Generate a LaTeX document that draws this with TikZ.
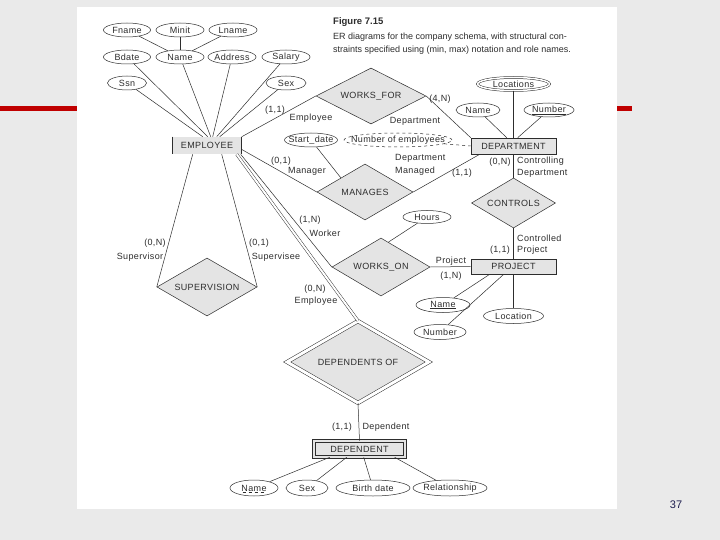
\documentclass[tikz,border=0pt]{standalone}
\usepackage{fontspec}
\setmainfont{Liberation Sans}
\newfontfamily\lsf{Liberation Sans}[LetterSpace=4]
\usetikzlibrary{shapes.geometric,calc}
\definecolor{slidebg}{RGB}{234,234,234}
\definecolor{boxgray}{RGB}{228,228,228}
\definecolor{barred}{RGB}{192,0,0}
\definecolor{inkc}{RGB}{45,45,45}
\definecolor{pagenum}{RGB}{30,30,80}
\newcommand{\zw}[1]{\makebox[0pt]{#1}}
\begin{document}
\begin{tikzpicture}[x=1pt,y=-1pt,
  every node/.style={font=\lsf\fontsize{9}{11}\selectfont, text=inkc, inner sep=0pt},
  attr/.style={ellipse, draw=inkc, fill=white, line width=0.5pt, minimum height=14pt},
  entbox/.style={rectangle, fill=boxgray, draw=inkc, line width=0.6pt},
  rel/.style={diamond, aspect=2, draw=inkc, fill=boxgray, line width=0.5pt},
  conn/.style={draw=inkc, line width=0.5pt}]
% slide background
\fill[slidebg] (0,0) rectangle (720,540);
\useasboundingbox (0,0) rectangle (720,540);
\fill[barred] (0,106) rectangle (78,111);
\fill[barred] (617,106) rectangle (632,111);
\fill[white] (77,7) rectangle (617,509);
\node[font=\fontsize{11}{13}\selectfont, text=pagenum] (pg) at (676,505) {37};

% caption
\node[anchor=west, font=\bfseries\fontsize{9.5}{11}\selectfont] (ftitle) at (333,22) {Figure 7.15};
\node[anchor=west, font=\fontsize{9}{11}\selectfont] (cap1) at (333,37) {ER diagrams for the company schema, with structural con-};
\node[anchor=west, font=\fontsize{9}{11}\selectfont] (cap2) at (333,50) {straints specified using (min, max) notation and role names.};

% entities
\node[entbox, draw=none, minimum width=69pt, minimum height=17pt] (emp) at (207,145.5) {EMPLOYEE};
\draw[conn, line width=0.7pt] (emp.north west) -- (emp.south west);
\draw[conn, line width=0.7pt] (emp.north east) -- (emp.south east);
\node[entbox, minimum width=85pt, minimum height=16pt] (dept) at (513.5,146) {DEPARTMENT};
\node[entbox, minimum width=85pt, minimum height=15pt] (proj) at (513.5,266.5) {PROJECT};
\node[entbox, double=boxgray, double distance=2.5pt, minimum width=91pt, minimum height=16pt] (dep) at (359.5,449) {DEPENDENT};

% relationships
\node[rel, minimum width=110pt, minimum height=56pt] (wf) at (371,96) {WORKS\_FOR};
\node[rel, minimum width=96pt, minimum height=56pt] (man) at (365,192) {MANAGES};
\node[rel, minimum width=84pt, minimum height=50pt] (ctrl) at (513.5,203) {CONTROLS};
\node[rel, minimum width=98pt, minimum height=58pt] (won) at (381,267) {WORKS\_ON};
\node[rel, minimum width=100pt, minimum height=58pt] (sup) at (207,287) {SUPERVISION};
\node[rel, double=white, double distance=3pt, minimum width=142pt, minimum height=82pt] (dof) at (358,362) {DEPENDENTS OF};

% employee attributes
\node[attr, minimum width=47pt] (fname) at (127,30) {\zw{Fname}};
\node[attr, minimum width=48pt] (minit) at (180,30) {\zw{Minit}};
\node[attr, minimum width=48pt] (lname) at (233,30) {\zw{Lname}};
\node[attr, minimum width=47pt] (bdate) at (127,57) {\zw{Bdate}};
\node[attr, minimum width=48pt] (ename) at (180,57) {\zw{Name}};
\node[attr, minimum width=48pt] (addr) at (232,57) {\zw{Address}};
\node[attr, minimum width=48pt] (salary) at (286,57) {\zw{Salary}};
\node[attr, minimum width=39pt] (ssn) at (127,83) {\zw{Ssn}};
\node[attr, minimum width=40pt] (esex) at (286,83) {\zw{Sex}};

% department attributes
\node[attr, double, double distance=1.5pt, minimum width=72pt, minimum height=13pt] (locs) at (513.5,84) {\zw{Locations}};
\node[attr, minimum width=44pt] (dname) at (478,110) {\zw{Name}};
\node[attr, minimum width=50pt] (dnum) at (549,110) {\zw{\underline{Number}}};
\node[attr, dashed, minimum width=108pt] (noe) at (398,140) {\zw{Number of employees}};
\node[attr, minimum width=53pt] (sdate) at (311,140) {\zw{Start\_date}};

% project / works_on attributes
\node[attr, minimum width=48pt, minimum height=13pt] (hours) at (427,217) {\zw{Hours}};
\node[attr, minimum width=54pt, minimum height=15pt] (pname) at (443,305) {\zw{\underline{Name}}};
\node[attr, minimum width=52pt, minimum height=15pt] (pnum) at (440,332) {\zw{Number}};
\node[attr, minimum width=60pt, minimum height=15pt] (ploc) at (513.5,316) {\zw{Location}};

% dependent attributes
\node[attr, minimum width=48pt, minimum height=16pt] (depname) at (254,488) {\zw{Name}};
\draw[conn, dashed, line width=0.4pt] ([xshift=-11.5pt,yshift=-4.5pt]depname.center) -- ([xshift=11.5pt,yshift=-4.5pt]depname.center);
\node[attr, minimum width=42pt, minimum height=16pt] (depsex) at (307,488) {\zw{Sex}};
\node[attr, minimum width=74pt, minimum height=16pt] (bdate2) at (373,488) {\zw{Birth date}};
\node[attr, minimum width=74pt, minimum height=16pt] (relsh) at (450,488) {\zw{Relationship}};

% connectors: employee attributes
\draw[conn] (fname) -- (ename);
\draw[conn] (minit) -- (ename);
\draw[conn] (lname) -- (ename);
\draw[conn] (ssn) -- ([xshift=30.5pt]emp.north west);
\draw[conn] (bdate) -- ([xshift=35.5pt]emp.north west);
\draw[conn] (ename) -- ([xshift=38.5pt]emp.north west);
\draw[conn] (addr) -- ([xshift=40.5pt]emp.north west);
\draw[conn] (salary) -- ([xshift=44.5pt]emp.north west);
\draw[conn] (esex) -- ([xshift=47.5pt]emp.north west);

% relationships of employee
\draw[conn] (emp.north east) -- (wf.west);
\draw[conn] ([yshift=-4pt]emp.east) -- (man.west);
\draw[conn] ([xshift=20.5pt]emp.south west) -- (sup.west);
\draw[conn] ([xshift=49.5pt]emp.south west) -- (sup.east);
\draw[conn] ([xshift=68.5pt]emp.south west) -- (won.west);
\draw[conn, double=white, double distance=2pt, line width=0.45pt] ([xshift=64.5pt]emp.south west) -- (dof.north);

% department connectors
\draw[conn] (wf.east) -- (dept.north west);
\draw[conn] (man.east) -- ([xshift=9pt]dept.south west);
\draw[conn] (sdate) -- (man.north west);
\draw[conn, dashed] (noe) -- (dept.west);
\draw[conn] (locs) -- (dept.north);
\draw[conn] (dname) -- ([xshift=36pt]dept.north west);
\draw[conn] (dnum) -- ([xshift=47pt]dept.north west);
\draw[conn] (dept.south) -- (ctrl.north);
\draw[conn] (ctrl.south) -- (proj.north);

% project connectors
\draw[conn] (won.east) -- (proj.west);
\draw[conn] ($(won.north)!0.15!(won.east)$) -- (hours);
\draw[conn] (proj.south) -- (ploc);
\draw[conn] ([xshift=19pt]proj.south west) -- (pname);
\draw[conn] ([xshift=33pt]proj.south west) -- (pnum);

% dependent connectors
\draw[conn] (dof.south) -- (dep.north);
\draw[conn] (depname) -- ([xshift=16pt]dep.south west);
\draw[conn] (depsex) -- ([xshift=33pt]dep.south west);
\draw[conn] (bdate2) -- ([xshift=50pt]dep.south west);
\draw[conn] (relsh) -- ([xshift=81pt]dep.south west);

% role labels and constraints
\node (l1) at (275,110) {(1,1)};
\node (l2) at (311,118) {Employee};
\node (l3) at (440,99) {(4,N)};
\node (l4) at (415,121) {Department};
\node (l5) at (281,161) {(0,1)};
\node (l6) at (307,171) {Manager};
\node[anchor=west] (l7) at (395,158) {Department};
\node[anchor=west] (l8) at (395,171) {Managed};
\node (l9) at (462,173) {(1,1)};
\node (l10) at (500,162) {(0,N)};
\node[anchor=west] (l11) at (517,161) {Controlling};
\node[anchor=west] (l12) at (517,173) {Department};
\node[anchor=west] (l13) at (517,238) {Controlled};
\node[anchor=west] (l14) at (517,250) {Project};
\node (l15) at (500,250) {(1,1)};
\node (l16) at (451,261) {Project};
\node (l17) at (451,276) {(1,N)};
\node (l18) at (310,220) {(1,N)};
\node (l19) at (325,233) {Worker};
\node (l20) at (315,289) {(0,N)};
\node (l21) at (316,301) {Employee};
\node (l22) at (155,243) {(0,N)};
\node (l23) at (140,257) {Supervisor};
\node (l24) at (259,243) {(0,1)};
\node (l25) at (276,257) {Supervisee};
\node (l26) at (342,427) {(1,1)};
\node (l27) at (386,427) {Dependent};
\end{tikzpicture}
\end{document}
